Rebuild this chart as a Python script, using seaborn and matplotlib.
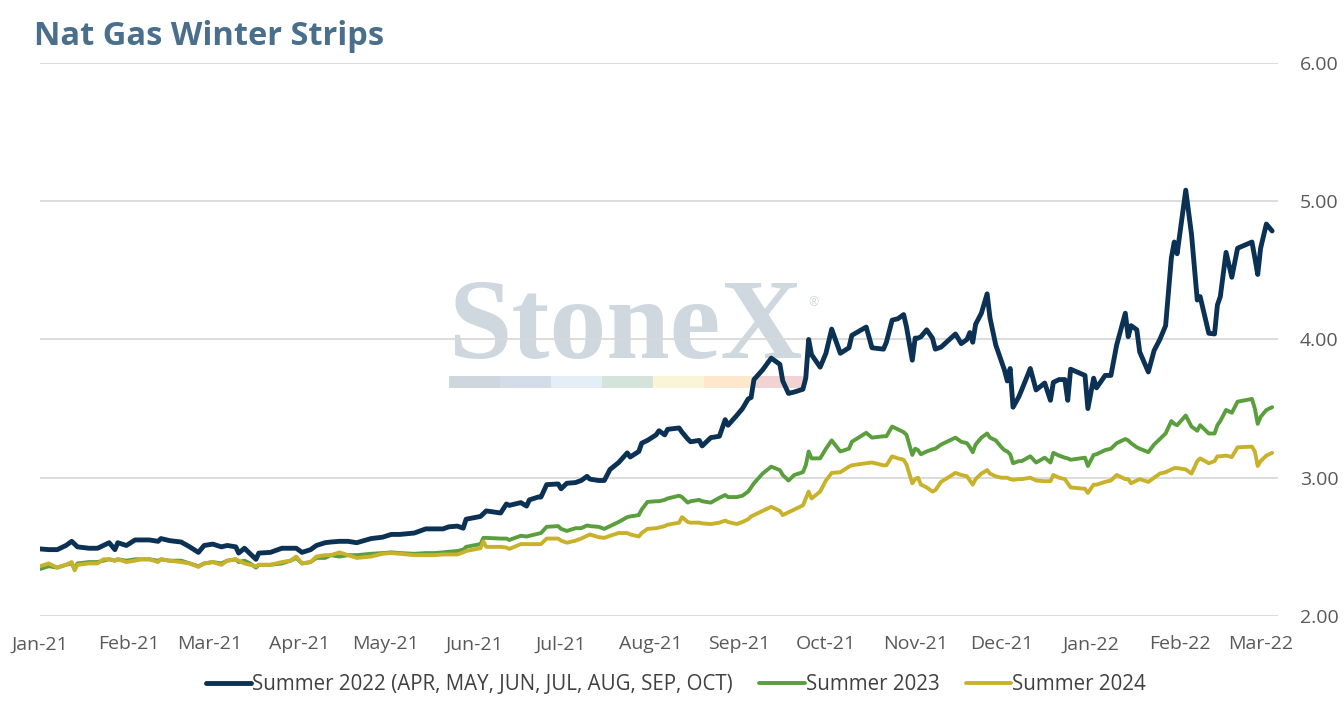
import pandas as pd
import seaborn as sns
import matplotlib
matplotlib.use("Agg")
import matplotlib.pyplot as plt
import matplotlib.dates as mdates
from matplotlib.patches import Rectangle
from matplotlib.ticker import FormatStrFormatter

# days after 1 Jan 2021
days = [0, 3, 6, 9, 11, 12, 13, 17, 20, 22, 24, 26, 27, 30, 33, 35, 38, 41, 42, 45,
        49, 52, 55, 57, 60, 63, 65, 68, 69, 71, 73, 75, 76, 80, 84, 87, 89, 91, 94, 96,
        99, 101, 104, 107, 110, 115, 119, 122, 125, 130, 134, 137, 140, 142, 145, 147, 148, 153, 154, 155,
        160, 162, 163, 167, 169, 170, 173, 174, 176, 180, 181, 183, 186, 188, 190, 191, 194, 196, 198, 201,
        204, 205, 208, 209, 211, 214, 215, 217, 218, 222, 223, 225, 226, 229, 230, 233, 236, 238, 239, 242,
        244, 246, 247, 248, 251, 254, 257, 258, 260, 262, 265, 266, 267, 268, 271, 273, 275, 278, 281, 282,
        287, 289, 293, 294, 296, 298, 300, 301, 303, 304, 305, 306, 308, 310, 311, 313, 318, 320, 322, 323,
        324, 325, 327, 329, 330, 332, 334, 335, 336, 337, 338, 340, 341, 344, 346, 349, 351, 352, 354, 356,
        357, 358, 363, 364, 366, 367, 370, 372, 374, 377, 378, 379, 381, 382, 385, 387, 389, 391, 393, 394,
        395, 398, 400, 402, 403, 406, 408, 409, 410, 412, 414, 416, 421, 422, 423, 424, 426, 428]

summer_2022 = [2.485, 2.48, 2.48, 2.51, 2.54, 2.52, 2.50, 2.49, 2.49, 2.51, 2.53, 2.48, 2.53, 2.51, 2.55, 2.55, 2.55, 2.54, 2.56, 2.545,
               2.535, 2.50, 2.46, 2.51, 2.52, 2.50, 2.51, 2.50, 2.455, 2.49, 2.45, 2.41, 2.455, 2.46, 2.49, 2.49, 2.49, 2.46, 2.48, 2.51,
               2.53, 2.535, 2.54, 2.54, 2.53, 2.56, 2.57, 2.59, 2.59, 2.60, 2.63, 2.63, 2.63, 2.645, 2.65, 2.635, 2.70, 2.72, 2.74, 2.76,
               2.745, 2.81, 2.80, 2.82, 2.795, 2.84, 2.86, 2.86, 2.95, 2.955, 2.92, 2.96, 2.965, 2.98, 3.01, 2.99, 2.98, 2.98, 3.06, 3.11,
               3.18, 3.15, 3.19, 3.25, 3.27, 3.31, 3.34, 3.31, 3.35, 3.36, 3.33, 3.28, 3.26, 3.27, 3.23, 3.29, 3.30, 3.42, 3.38, 3.45,
               3.50, 3.57, 3.58, 3.71, 3.78, 3.865, 3.82, 3.70, 3.61, 3.62, 3.64, 3.72, 4.00, 3.89, 3.80, 3.90, 4.075, 3.90, 3.94, 4.03,
               4.09, 3.94, 3.93, 3.98, 4.14, 4.15, 4.18, 4.09, 3.85, 4.01, 4.01, 4.02, 4.07, 4.01, 3.93, 3.945, 4.04, 3.97, 4.00, 4.05,
               3.98, 4.11, 4.19, 4.33, 4.155, 3.96, 3.84, 3.78, 3.70, 3.79, 3.51, 3.585, 3.635, 3.79, 3.635, 3.685, 3.56, 3.69, 3.71, 3.71,
               3.56, 3.785, 3.74, 3.50, 3.72, 3.65, 3.74, 3.74, 3.96, 4.19, 4.02, 4.10, 4.07, 3.91, 3.765, 3.92, 4.00, 4.10, 4.59, 4.705,
               4.62, 5.08, 4.76, 4.285, 4.31, 4.045, 4.04, 4.25, 4.31, 4.63, 4.45, 4.66, 4.705, 4.59, 4.47, 4.66, 4.835, 4.785]

summer_2023 = [2.34, 2.36, 2.35, 2.37, 2.38, 2.34, 2.38, 2.39, 2.39, 2.40, 2.41, 2.40, 2.41, 2.40, 2.41, 2.41, 2.41, 2.40, 2.41, 2.40,
               2.40, 2.38, 2.36, 2.38, 2.39, 2.38, 2.40, 2.41, 2.39, 2.40, 2.38, 2.35, 2.37, 2.37, 2.38, 2.40, 2.42, 2.38, 2.39, 2.42,
               2.42, 2.44, 2.43, 2.44, 2.44, 2.45, 2.455, 2.46, 2.455, 2.45, 2.455, 2.455, 2.46, 2.465, 2.47, 2.48, 2.50, 2.52, 2.565, 2.565,
               2.56, 2.56, 2.55, 2.58, 2.575, 2.58, 2.595, 2.60, 2.645, 2.65, 2.63, 2.615, 2.635, 2.635, 2.655, 2.65, 2.645, 2.63, 2.65, 2.68,
               2.715, 2.72, 2.73, 2.77, 2.825, 2.83, 2.83, 2.84, 2.85, 2.87, 2.86, 2.82, 2.83, 2.84, 2.83, 2.82, 2.855, 2.875, 2.86, 2.86,
               2.87, 2.90, 2.93, 2.96, 3.03, 3.08, 3.055, 3.02, 2.98, 3.02, 3.04, 3.09, 3.19, 3.14, 3.14, 3.21, 3.27, 3.19, 3.21, 3.26,
               3.325, 3.29, 3.30, 3.30, 3.37, 3.35, 3.33, 3.31, 3.165, 3.21, 3.20, 3.17, 3.19, 3.205, 3.21, 3.24, 3.29, 3.26, 3.25, 3.22,
               3.185, 3.24, 3.29, 3.32, 3.29, 3.27, 3.22, 3.20, 3.19, 3.17, 3.105, 3.12, 3.12, 3.155, 3.11, 3.145, 3.11, 3.18, 3.16, 3.145,
               3.14, 3.13, 3.145, 3.085, 3.165, 3.17, 3.20, 3.21, 3.25, 3.28, 3.27, 3.25, 3.22, 3.21, 3.185, 3.24, 3.28, 3.32, 3.41, 3.39,
               3.38, 3.45, 3.37, 3.34, 3.38, 3.32, 3.32, 3.38, 3.41, 3.49, 3.47, 3.55, 3.57, 3.50, 3.39, 3.44, 3.49, 3.51]

summer_2024 = [2.36, 2.38, 2.35, 2.37, 2.39, 2.33, 2.37, 2.38, 2.38, 2.41, 2.41, 2.40, 2.41, 2.39, 2.40, 2.41, 2.41, 2.39, 2.41, 2.40,
               2.39, 2.38, 2.355, 2.38, 2.39, 2.37, 2.40, 2.41, 2.40, 2.38, 2.37, 2.36, 2.37, 2.37, 2.39, 2.40, 2.43, 2.38, 2.39, 2.43,
               2.44, 2.44, 2.46, 2.44, 2.42, 2.43, 2.45, 2.455, 2.45, 2.44, 2.44, 2.44, 2.445, 2.445, 2.445, 2.46, 2.47, 2.49, 2.54, 2.50,
               2.50, 2.495, 2.485, 2.52, 2.52, 2.52, 2.52, 2.52, 2.56, 2.56, 2.545, 2.53, 2.545, 2.56, 2.58, 2.59, 2.57, 2.565, 2.58, 2.60,
               2.60, 2.59, 2.575, 2.60, 2.63, 2.635, 2.64, 2.65, 2.66, 2.675, 2.715, 2.68, 2.675, 2.675, 2.67, 2.665, 2.675, 2.69, 2.68, 2.665,
               2.68, 2.70, 2.72, 2.73, 2.76, 2.79, 2.76, 2.73, 2.75, 2.77, 2.80, 2.85, 2.90, 2.85, 2.90, 2.98, 3.035, 3.04, 3.08, 3.09,
               3.105, 3.11, 3.09, 3.09, 3.155, 3.14, 3.13, 3.095, 2.96, 2.99, 3.00, 2.95, 2.93, 2.90, 2.91, 2.97, 3.035, 3.02, 3.01, 2.98,
               2.95, 2.99, 3.03, 3.055, 3.03, 3.01, 3.00, 3.00, 3.00, 2.99, 2.985, 2.99, 2.99, 3.00, 2.98, 2.975, 2.975, 3.02, 3.00, 2.99,
               2.96, 2.93, 2.92, 2.89, 2.95, 2.95, 2.97, 2.98, 3.02, 2.99, 2.99, 2.96, 2.98, 2.99, 2.97, 3.00, 3.03, 3.04, 3.06, 3.07,
               3.07, 3.06, 3.03, 3.12, 3.14, 3.105, 3.12, 3.155, 3.155, 3.16, 3.15, 3.22, 3.225, 3.19, 3.085, 3.12, 3.16, 3.18]

labels = ["Summer 2022 (APR, MAY, JUN, JUL, AUG, SEP, OCT)", "Summer 2023", "Summer 2024"]
colors = ["#0b3154", "#5a9e3d", "#c8b22c"]
widths = [3.5, 2.8, 2.8]

dates = pd.Timestamp("2021-01-01") + pd.to_timedelta(days, unit="D")
df = pd.DataFrame({"date": dates, labels[0]: summer_2022, labels[1]: summer_2023, labels[2]: summer_2024})
long_df = df.melt(id_vars="date", var_name="series", value_name="price")

sns.set_theme(style="white")
plt.rcParams["font.family"] = ["Open Sans", "DejaVu Sans"]

fig = plt.figure(figsize=(13.44, 7.06), dpi=100)
ax = fig.add_axes([0.0298, 0.1275, 0.921, 0.7833])
ax.patch.set_alpha(0)

for lab, col, lw in zip(labels, colors, widths):
    sns.lineplot(data=long_df[long_df["series"] == lab], x="date", y="price",
                 color=col, linewidth=lw, label=lab, ax=ax)

ax.set_ylim(2, 6)
ax.set_yticks([2, 3, 4, 5, 6])
ax.yaxis.set_major_formatter(FormatStrFormatter("%.2f"))
ax.yaxis.tick_right()
ax.set_xlim(pd.Timestamp("2021-01-01"), pd.Timestamp("2022-03-07"))
ax.xaxis.set_major_locator(mdates.MonthLocator())
ax.xaxis.set_major_formatter(mdates.DateFormatter("%b-%y"))
ax.tick_params(axis="both", length=0, labelsize=14, labelcolor="#595959")
ax.tick_params(axis="x", pad=14)
ax.tick_params(axis="y", pad=16)
ax.grid(axis="y", color="#d9d9d9", linewidth=1.3)
ax.grid(axis="x", visible=False)
ax.set_xlabel("")
ax.set_ylabel("")
for sp in ax.spines.values():
    sp.set_visible(False)

# watermark
fig.text(0.466, 0.493, "StoneX", ha="center", va="baseline", fontsize=82,
         family="Liberation Serif", weight="bold", color="#cfd7df", zorder=-2)
fig.text(0.605, 0.572, "\u00ae", ha="center", va="center", fontsize=9,
         color="#cfd7df", zorder=-2)
bar_colors = ["#cfd6dd", "#d3dde8", "#e3eef6", "#d4e4da", "#fbf5d8", "#fde8cb", "#f2d3d4"]
x0 = 449 / 1344
seg = 51 / 1344
for i, c in enumerate(bar_colors):
    fig.add_artist(Rectangle((x0 + i * seg, 0.4504), seg, 0.017, transform=fig.transFigure,
                             facecolor=c, edgecolor="none", zorder=-2))

fig.text(0.025, 0.949, "Nat Gas Winter Strips", ha="left", va="center",
         fontsize=23.5, weight="bold", color="#4a6f8c")

handles, labs = ax.get_legend_handles_labels()
ax.get_legend().remove()
leg = fig.legend(handles, labs, loc="center", bbox_to_anchor=(0.503, 0.03), ncol=3,
                 frameon=False, handlelength=2.2, handletextpad=0.05, columnspacing=1.3,
                 prop={"size": 14.8})
for t in leg.get_texts():
    t.set_color("#404040")

fig.savefig("out.png", dpi=100)
